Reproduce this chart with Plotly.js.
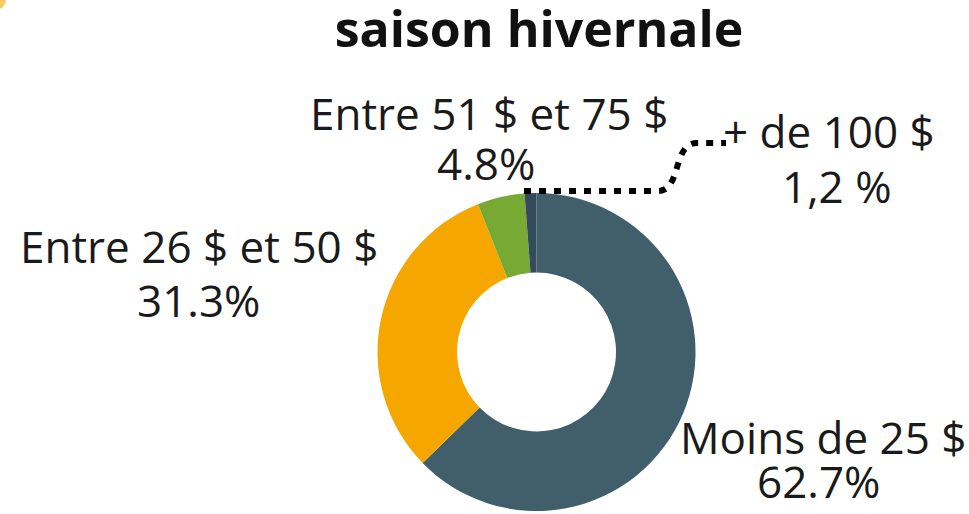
<!DOCTYPE html>
<html>
<head>
<meta charset="utf-8">
<script src="https://cdn.plot.ly/plotly-3.0.1.min.js"></script>
<style>html,body{margin:0;padding:0;background:#fff;}#chart{width:969px;height:514px;}</style>
</head>
<body>
<div id="chart"></div>
<script>
const categories = ["Moins de 25 $", "Entre 26 $ et 50 $", "Entre 51 $ et 75 $", "+ de 100 $"];
const values = [62.7, 31.3, 4.8, 1.2];
const valueLabels = ["62.7%", "31.3%", "4.8%", "1,2 %"];
const colors = ["#415f6a", "#f5a700", "#78a934", "#354a5c"];
const chartTitle = "saison hivernale";

const W = 969, H = 514;
const px = x => x / W;
const py = y => 1 - y / H;

// label placement (pixel centres of the two text lines) per category
const labelPos = [
  {x: 823, y1: 437, x2: 818, y2: 481},
  {x: 199, y1: 246, x2: 198, y2: 300},
  {x: 489, y1: 113, x2: 486, y2: 163},
  {x: 829, y1: 131, x2: 837, y2: 186}
];
const fontSize = 44;
const annotations = [];
categories.forEach((c, i) => {
  const p = labelPos[i];
  annotations.push({xref: 'paper', yref: 'paper', x: px(p.x), y: py(p.y1), text: c,
    showarrow: false, xanchor: 'center', yanchor: 'middle',
    font: {family: 'Open Sans', size: fontSize, color: '#1a1a1a'}});
  annotations.push({xref: 'paper', yref: 'paper', x: px(p.x2), y: py(p.y2), text: valueLabels[i],
    showarrow: false, xanchor: 'center', yanchor: 'middle',
    font: {family: 'Open Sans', size: fontSize, color: '#1a1a1a'}});
});

const leader = 'M ' + px(524) + ',' + py(191) + ' L ' + px(658) + ',' + py(191) +
  ' C ' + px(682) + ',' + py(191) + ' ' + px(672) + ',' + py(143) + ' ' + px(697) + ',' + py(143) +
  ' L ' + px(726) + ',' + py(143);

const cx = 536.5, cy = 352, r = 159;
const data = [{
  type: 'pie',
  labels: categories,
  values: values,
  sort: false,
  direction: 'clockwise',
  rotation: 0,
  hole: 0.5,
  textinfo: 'none',
  marker: {colors: colors, line: {width: 0}},
  showlegend: false,
  domain: {x: [px(cx - r), px(cx + r)], y: [py(cy + r), py(cy - r)]}
}];

const layout = {
  width: W, height: H,
  margin: {l: 0, r: 0, t: 0, b: 0},
  paper_bgcolor: '#ffffff',
  title: {text: '<b>' + chartTitle + '</b>', x: px(539), xref: 'paper', xanchor: 'center',
    y: py(29), yref: 'paper', yanchor: 'middle',
    font: {family: 'Open Sans', size: 50, color: '#111111'}},
  annotations: annotations,
  shapes: [
    {type: 'path', xref: 'paper', yref: 'paper', path: leader,
     line: {color: '#000000', width: 6, dash: '7px,8px'}},
    {type: 'circle', xref: 'paper', yref: 'paper', x0: px(-14), x1: px(6), y0: py(10), y1: py(-12),
     fillcolor: '#f5a700', opacity: 0.6, line: {width: 0}}
  ]
};

Plotly.newPlot('chart', data, layout, {staticPlot: true, displayModeBar: false});
</script>
</body>
</html>
